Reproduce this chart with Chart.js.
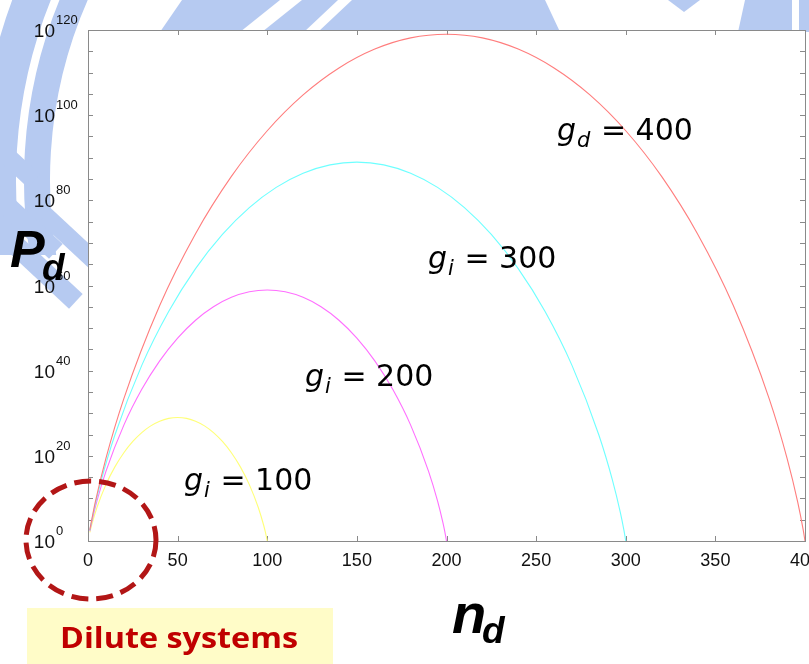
<!DOCTYPE html>
<html><head><meta charset="utf-8">
<script src="https://cdn.jsdelivr.net/npm/chart.js@4.4.1/dist/chart.umd.min.js"></script>
<style>html,body{margin:0;padding:0;background:#fff;overflow:hidden}#wrap{width:809px;height:664px;position:relative}</style>
</head><body><div id="wrap"><canvas id="c" width="809" height="664"></canvas></div>
<script>
// ---- data (P_d on a log axis) ----
const n400 = [1,4,10,20,40,60,80,100,120,140,160,180,200,220,240,260,280,300,320,340,360,380,390,396,399,400];
const p400 = [4.0e2,1.05e9,2.6e19,2.8e33,2.0e55,1.5e72,4.2e85,2.2e96,5.7e104,1.2e111,3.3e115,1.4e118,1.0e119,1.4e118,3.3e115,1.2e111,5.7e104,2.2e96,4.2e85,1.5e72,2.0e55,2.8e33,2.6e19,1.05e9,4.0e2,1];
const n300 = [1,3,7.5,15,30,45,60,75,90,105,120,135,150,165,180,195,210,225,240,255,270,285,292.5,297,299,300];
const p300 = [3.0e2,4.46e6,2.52e14,7.73e24,1.74e41,7.66e53,9.06e63,9.8e71,1.95e78,1.09e83,2.28e86,2.10e88,9.38e88,2.10e88,2.28e86,1.09e83,1.95e78,9.8e71,9.06e63,7.66e53,1.74e41,7.73e24,2.52e14,4.46e6,3.0e2,1];
const n200 = [1,2,5,10,20,30,40,50,60,70,80,90,100,110,120,130,140,150,160,170,180,190,195,198,199,200];
const p200 = [2.0e2,1.99e4,2.54e9,2.26e16,1.62e27,4.11e35,2.05e42,4.55e47,7.05e51,1.02e55,1.65e57,3.35e58,9.06e58,3.35e58,1.65e57,1.02e55,7.05e51,4.55e47,2.05e42,4.11e35,1.62e27,2.26e16,2.54e9,1.99e4,2.0e2,1];
const n100 = [1,2,5,10,15,20,25,30,35,40,45,50,55,60,65,70,75,80,85,90,95,98,99,100];
const p100 = [1.0e2,4.95e3,7.53e7,1.73e13,2.53e17,5.36e20,2.43e23,2.94e25,1.10e27,1.37e28,6.15e28,1.01e29,6.15e28,1.37e28,1.10e27,2.94e25,2.43e23,5.36e20,2.53e17,1.73e13,7.53e7,4.95e3,1.0e2,1];

const xTicks = [0,50,100,150,200,250,300,350,400];
const yLabelExps = [0,20,40,60,80,100,120];
const yMinorExps = [0,5,10,15,20,25,30,35,40,45,50,55,60,65,70,75,80,85,90,95,100,105,110,115,120];
const curveNames = ['g_d = 400','g_i = 300','g_i = 200','g_i = 100'];
const curveSubs = ['d','i','i','i'];
const curveValues = ['400','300','200','100'];
const yAxisTitle = 'P'; const yAxisSub = 'd';
const xAxisTitle = 'n'; const xAxisSub = 'd';
const noteText = 'Dilute systems';

// ---- layout / style (not data) ----
const lineColors = ['rgb(255,125,125)','rgb(110,255,255)','rgb(255,110,255)','rgb(255,255,120)'];
const labelPos = [[557,140],[428,268],[305,386],[184,490]];

function pts(xs, ys){ return xs.map((x,i)=>({x:x, y:ys[i]})); }

function drawWatermark(ctx){
  ctx.save();
  const c='rgb(182,202,241)';
  ctx.strokeStyle=c; ctx.fillStyle=c;
  // outer rings (upper-left only)
  ctx.save();
  ctx.beginPath(); ctx.rect(0,0,809,255); ctx.clip();
  ctx.lineWidth=36;
  ctx.beginPath(); ctx.arc(498,180,500,Math.PI*0.9,Math.PI*1.5); ctx.stroke();
  ctx.lineWidth=26;
  ctx.beginPath(); ctx.arc(498,180,461,Math.PI*0.9,Math.PI*1.5); ctx.stroke();
  ctx.restore();
  // diagonal bars on the left
  ctx.save();
  ctx.beginPath(); ctx.rect(0,120,88,220); ctx.clip();
  const bars=[[-10,140,60,18],[-10,190,90,20],[10,240,90,20],[45,215,120,18]];
  bars.forEach(b=>{ ctx.save(); ctx.translate(b[0],b[1]); ctx.rotate(0.75); ctx.fillRect(0,-b[3]/2,b[2],b[3]); ctx.restore(); });
  ctx.restore();
  // top shapes
  ctx.beginPath(); ctx.moveTo(182,0); ctx.lineTo(545,0); ctx.lineTo(560,32); ctx.lineTo(160,32); ctx.closePath(); ctx.fill();
  ctx.fillStyle='#fff';
  ctx.beginPath(); ctx.moveTo(280,0); ctx.lineTo(302,0); ctx.lineTo(262,32); ctx.lineTo(240,32); ctx.closePath(); ctx.fill();
  ctx.beginPath(); ctx.moveTo(338,0); ctx.lineTo(352,0); ctx.lineTo(318,32); ctx.lineTo(304,32); ctx.closePath(); ctx.fill();
  ctx.fillStyle=c;
  ctx.beginPath(); ctx.moveTo(745,0); ctx.lineTo(809,0); ctx.lineTo(809,32); ctx.lineTo(738,32); ctx.closePath(); ctx.fill();
  ctx.beginPath(); ctx.moveTo(668,0); ctx.lineTo(700,0); ctx.lineTo(684,12); ctx.closePath(); ctx.fill();
  ctx.fillStyle='#fff'; ctx.fillRect(792,0,7,32);
  ctx.restore();
}

const deco = {
  id:'deco',
  beforeDraw(chart){
    const ctx=chart.ctx, a=chart.chartArea;
    ctx.save();
    ctx.fillStyle='#fff'; ctx.fillRect(0,0,chart.width,chart.height);
    drawWatermark(ctx);
    ctx.fillStyle='#fff'; ctx.fillRect(a.left,a.top,a.right-a.left,a.bottom-a.top);
    ctx.restore();
  },
  beforeDatasetsDraw(chart){
    const ctx=chart.ctx, a=chart.chartArea, xs=chart.scales.x, ys=chart.scales.y;
    ctx.save();
    ctx.strokeStyle='#8a8a8a'; ctx.lineWidth=1;
    ctx.strokeRect(Math.round(a.left)+0.5,Math.round(a.top)+0.5,Math.round(a.right-a.left),Math.round(a.bottom-a.top));
    ctx.beginPath();
    xTicks.forEach(v=>{ const px=Math.round(xs.getPixelForValue(v))+0.5;
      ctx.moveTo(px,a.bottom); ctx.lineTo(px,a.bottom-5);
      ctx.moveTo(px,a.top); ctx.lineTo(px,a.top+5); });
    yMinorExps.forEach(e=>{ const py=Math.round(ys.getPixelForValue(Math.pow(10,e)))+0.5;
      ctx.moveTo(a.left,py); ctx.lineTo(a.left+5,py);
      ctx.moveTo(a.right,py); ctx.lineTo(a.right-5,py); });
    ctx.stroke();
    ctx.restore();
  },
  afterDraw(chart){
    const ctx=chart.ctx, a=chart.chartArea, xs=chart.scales.x, ys=chart.scales.y;
    ctx.save();
    ctx.fillStyle='#111';
    // x tick labels
    ctx.font='18px "Liberation Sans", Arial, sans-serif'; ctx.textAlign='center'; ctx.textBaseline='alphabetic';
    xTicks.forEach(v=>{ ctx.fillText(String(v), xs.getPixelForValue(v), a.bottom+25); });
    // y tick labels 10^e
    yLabelExps.forEach(e=>{ const py=ys.getPixelForValue(Math.pow(10,e));
      ctx.font='19px "Liberation Sans", Arial, sans-serif'; ctx.textAlign='right';
      ctx.fillText('10', 55, py+7);
      ctx.font='13px "Liberation Sans", Arial, sans-serif'; ctx.textAlign='left';
      ctx.fillText(String(e), 56, py-6); });
    // curve labels
    ctx.fillStyle='#000'; ctx.textAlign='left';
    curveValues.forEach((v,i)=>{ const [x,b]=labelPos[i];
      ctx.font='italic 30px "DejaVu Sans", sans-serif'; ctx.fillText('g',x,b);
      const w=ctx.measureText('g').width;
      ctx.font='italic 21px "DejaVu Sans", sans-serif'; ctx.fillText(curveSubs[i],x+w+1,b+7);
      const w2=ctx.measureText(curveSubs[i]).width;
      ctx.font='30px "DejaVu Sans", sans-serif'; ctx.fillText(' = '+v,x+w+w2+2,b); });
    // axis titles
    ctx.font='bold italic 52px "Liberation Sans", Arial, sans-serif';
    ctx.fillText(yAxisTitle,10,267);
    ctx.font='bold italic 37px "Liberation Sans", Arial, sans-serif';
    ctx.fillText(yAxisSub,42,280);
    ctx.font='bold italic 56px "Liberation Sans", Arial, sans-serif';
    ctx.fillText(xAxisTitle,452,633);
    ctx.font='bold italic 37px "Liberation Sans", Arial, sans-serif';
    ctx.fillText(xAxisSub,482,643);
    // dashed circle
    ctx.strokeStyle='rgb(178,22,22)'; ctx.lineWidth=5; ctx.setLineDash([17,8]);
    ctx.beginPath(); ctx.ellipse(91,540,65,59,0,0,Math.PI*2); ctx.stroke();
    ctx.setLineDash([]);
    // note box
    ctx.fillStyle='rgb(255,252,200)'; ctx.fillRect(27,608,306,56);
    ctx.fillStyle='rgb(192,0,0)';
    ctx.font='bold 29px "Open Sans", sans-serif'; ctx.textAlign='left';
    const tw=ctx.measureText(noteText).width;
    ctx.save(); ctx.translate(60,648); ctx.scale(238/tw,1); ctx.fillText(noteText,0,0); ctx.restore();
    ctx.restore();
  }
};

const sets=[[n400,p400],[n300,p300],[n200,p200],[n100,p100]];
new Chart(document.getElementById('c'), {
  type:'line',
  data:{ datasets: sets.map((s,i)=>({ label:curveNames[i], data:pts(s[0],s[1]), borderColor:lineColors[i], borderWidth:1.1,
    pointRadius:0, fill:false, cubicInterpolationMode:'monotone' })) },
  options:{
    responsive:false, devicePixelRatio:1, animation:false,
    layout:{ padding:{ left:88, top:30, right:4, bottom:123 } },
    plugins:{ legend:{display:false}, tooltip:{enabled:false} },
    scales:{
      x:{ type:'linear', min:0, max:400, display:false },
      y:{ type:'logarithmic', min:1, max:1e120, display:false,
          afterBuildTicks:(s)=>{ s.ticks = yLabelExps.map(e=>({value:Math.pow(10,e)})); } }
    }
  },
  plugins:[deco]
});
</script></body></html>
